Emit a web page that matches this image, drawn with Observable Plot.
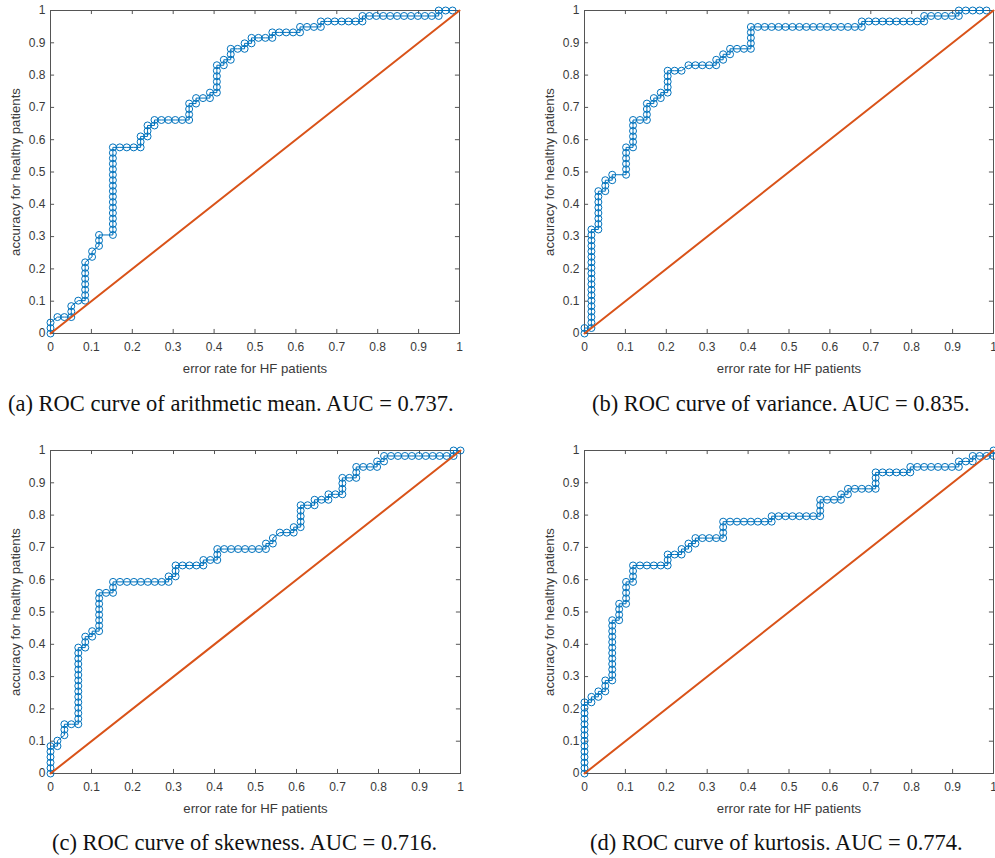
<!DOCTYPE html>
<html>
<head>
<meta charset="utf-8">
<script src="https://cdn.jsdelivr.net/npm/d3@7"></script>
<script src="https://cdn.jsdelivr.net/npm/@observablehq/plot@0.6"></script>
<style>
  html, body { margin: 0; padding: 0; background: #fff; }
  #root { position: relative; width: 995px; height: 858px; overflow: hidden; background: #fff; }
  .panel { position: absolute; }
  .caption { position: absolute; white-space: nowrap; font-family: "Liberation Serif", "Times New Roman", serif; font-size: 22.5px; line-height: 22.5px; color: #111; }
</style>
</head>
<body>
<div id="root"></div>
<script>
// ---- data (counts of patients; N patients per class) ----
const N = 59;
const tickValues = [0, 0.1, 0.2, 0.3, 0.4, 0.5, 0.6, 0.7, 0.8, 0.9, 1];
const tickLabels = ["0", "0.1", "0.2", "0.3", "0.4", "0.5", "0.6", "0.7", "0.8", "0.9", "1"];
const xLabel = "error rate for HF patients";
const yLabel = "accuracy for healthy patients";
const chance = [[0, 0], [1, 1]];
const captions = [
  "(a) ROC curve of arithmetic mean. AUC = 0.737.",
  "(b) ROC curve of variance. AUC = 0.835.",
  "(c) ROC curve of skewness. AUC = 0.716.",
  "(d) ROC curve of kurtosis. AUC = 0.774."
];

// [HF patients counted as error, healthy patients counted as correct]
const rocMean = [[0,0],[0,1],[0,2],[1,3],[2,3],[3,3],[3,4],[3,5],[4,6],[5,6],[5,7],[5,8],[5,9],[5,10],[5,11],[5,12],[5,13],[6,14],[6,15],[7,16],[7,17],[7,18],
  [9,18],[9,19],[9,20],[9,21],[9,22],[9,23],[9,24],[9,25],[9,26],[9,27],[9,28],[9,29],[9,30],[9,31],[9,32],[9,33],[9,34],
  [10,34],[11,34],[12,34],[13,34],[13,35],[13,36],[14,36],[14,37],[14,38],[15,38],[15,39],[16,39],[17,39],[18,39],[19,39],[20,39],[20,40],[20,41],[20,42],
  [21,42],[21,43],[22,43],[23,43],[23,44],[24,44],[24,45],[24,46],[24,47],[24,48],[24,49],[25,49],[25,50],[26,50],[26,51],[26,52],[27,52],[28,52],[28,53],
  [29,53],[29,54],[30,54],[31,54],[32,54],[32,55],[33,55],[34,55],[35,55],[36,55],[36,56],[37,56],[38,56],[39,56],[39,57],[40,57],[41,57],[42,57],[43,57],
  [44,57],[45,57],[45,58],[46,58],[47,58],[48,58],[49,58],[50,58],[51,58],[52,58],[53,58],[54,58],[55,58],[56,58],[56,59],[57,59],[58,59]];

const rocVariance = [[0,0],[0,1],[1,1],[1,2],[1,3],[1,4],[1,5],[1,6],[1,7],[1,8],[1,9],[1,10],[1,11],[1,12],[1,13],[1,14],[1,15],[1,16],[1,17],[1,18],[1,19],
  [2,19],[2,20],[2,21],[2,22],[2,23],[2,24],[2,25],[2,26],[3,26],[3,27],[3,28],[4,28],[4,29],[6,29],[6,30],[6,31],[6,32],[6,33],[6,34],
  [7,34],[7,35],[7,36],[7,37],[7,38],[7,39],[8,39],[9,39],[9,40],[9,41],[9,42],[10,42],[10,43],[11,43],[11,44],[12,44],[12,45],[12,46],[12,47],[12,48],
  [13,48],[14,48],[15,49],[16,49],[17,49],[18,49],[19,49],[19,50],[20,50],[20,51],[21,51],[21,52],[22,52],[23,52],[24,52],[24,53],[24,54],[24,55],[24,56],
  [25,56],[26,56],[27,56],[28,56],[29,56],[30,56],[31,56],[32,56],[33,56],[34,56],[35,56],[36,56],[37,56],[38,56],[39,56],[40,56],
  [40,57],[41,57],[42,57],[43,57],[44,57],[45,57],[46,57],[47,57],[48,57],[49,57],[49,58],[50,58],[51,58],[52,58],[53,58],[54,58],
  [54,59],[55,59],[56,59],[57,59],[58,59]];

const rocSkewness = [[0,0],[0,1],[0,2],[0,3],[0,4],[0,5],[1,5],[1,6],[2,7],[2,8],[2,9],[3,9],[4,9],[4,10],[4,11],[4,12],[4,13],[4,14],[4,15],[4,16],[4,17],
  [4,18],[4,19],[4,20],[4,21],[4,22],[4,23],[5,23],[5,24],[5,25],[6,25],[6,26],[7,26],[7,27],[7,28],[7,29],[7,30],[7,31],[7,32],[7,33],[8,33],[9,33],
  [9,34],[9,35],[10,35],[11,35],[12,35],[13,35],[14,35],[15,35],[16,35],[17,35],[17,36],[18,36],[18,37],[18,38],[19,38],[20,38],[21,38],[22,38],[22,39],
  [23,39],[24,39],[24,40],[24,41],[25,41],[26,41],[27,41],[28,41],[29,41],[30,41],[31,41],[31,42],[32,42],[32,43],[33,44],[34,44],[35,44],[35,45],[36,45],
  [36,46],[36,47],[36,48],[36,49],[37,49],[38,49],[38,50],[39,50],[40,50],[40,51],[41,51],[42,51],[42,52],[42,53],[42,54],[43,54],[44,54],[44,55],[44,56],
  [45,56],[46,56],[47,56],[47,57],[48,57],[48,58],[49,58],[50,58],[51,58],[52,58],[53,58],[54,58],[55,58],[56,58],[57,58],[58,58],[58,59],[59,59]];

const rocKurtosis = [[0,0],[0,1],[0,2],[0,3],[0,4],[0,5],[0,6],[0,7],[0,8],[0,9],[0,10],[0,11],[0,12],[0,13],[1,13],[1,14],[2,14],[2,15],[3,15],[3,16],[3,17],
  [4,17],[4,18],[4,19],[4,20],[4,21],[4,22],[4,23],[4,24],[4,25],[4,26],[4,27],[4,28],[5,28],[5,29],[5,30],[5,31],[6,31],[6,32],[6,33],[6,34],[6,35],
  [7,35],[7,36],[7,37],[7,38],[8,38],[9,38],[10,38],[11,38],[12,38],[12,39],[12,40],[13,40],[14,40],[14,41],[15,41],[15,42],[16,42],[16,43],[17,43],[18,43],
  [19,43],[20,43],[20,44],[20,45],[20,46],[21,46],[22,46],[23,46],[24,46],[25,46],[26,46],[27,46],[27,47],[28,47],[29,47],[30,47],[31,47],[32,47],[33,47],
  [34,47],[34,48],[34,49],[34,50],[35,50],[36,50],[37,50],[37,51],[38,51],[38,52],[39,52],[40,52],[41,52],[42,52],[42,53],[42,54],[42,55],[43,55],[44,55],
  [45,55],[46,55],[47,55],[47,56],[48,56],[49,56],[50,56],[51,56],[52,56],[53,56],[54,56],[54,57],[55,57],[56,57],[56,58],[57,58],[58,58],[59,58],[59,59]];

// ---- drawing ----
const BLUE = "#0072BD", ORANGE = "#D95319", AXIS = "#555555", TEXT = "#3a3a3a";
const root = document.getElementById("root");

function panel(points, caption, {left, top, width, marginRight, capLeft, capTop}) {
  const fx = d => d[0] / N, fy = d => d[1] / N;
  const chart = Plot.plot({
    width, height: 380,
    marginLeft: 50, marginRight, marginTop: 10, marginBottom: 47,
    x: {domain: [0, 1]},
    y: {domain: [0, 1]},
    style: {fontFamily: "'Liberation Sans', Arial, sans-serif", fontSize: "12px", color: TEXT, background: "transparent", overflow: "visible"},
    marks: [
      Plot.frame({stroke: AXIS, strokeWidth: 1}),
      Plot.ruleX(tickValues, {x: d => d, y1: 0, y2: 0.0125, stroke: AXIS}),
      Plot.ruleX(tickValues, {x: d => d, y1: 1, y2: 0.9875, stroke: AXIS}),
      Plot.ruleY(tickValues, {y: d => d, x1: 0, x2: 0.01, stroke: AXIS}),
      Plot.ruleY(tickValues, {y: d => d, x1: 1, x2: 0.99, stroke: AXIS}),
      Plot.axisX({ticks: tickValues, tickFormat: (d, i) => tickLabels[i], tickSize: 0, tickPadding: 9, label: null, fontSize: 12}),
      Plot.axisY({ticks: tickValues, tickFormat: (d, i) => tickLabels[i], tickSize: 0, tickPadding: 5, label: null, fontSize: 12}),
      Plot.axisX({ticks: [], tickSize: 0, label: xLabel, labelAnchor: "center", labelOffset: 39, labelArrow: false, fontSize: 13.2}),
      Plot.axisY({ticks: [], tickSize: 0, label: yLabel, labelAnchor: "center", labelOffset: 40, labelArrow: false, fontSize: 13.2}),
      Plot.line(points, {x: fx, y: fy, stroke: BLUE, strokeWidth: 1}),
      Plot.dot(points, {x: fx, y: fy, r: 3.5, stroke: BLUE, fill: "none", strokeWidth: 1}),
      Plot.line(chance, {x: d => d[0], y: d => d[1], stroke: ORANGE, strokeWidth: 2})
    ]
  });
  const wrap = document.createElement("div");
  wrap.className = "panel";
  wrap.style.left = left + "px";
  wrap.style.top = top + "px";
  wrap.appendChild(chart);
  root.appendChild(wrap);
  const cap = document.createElement("div");
  cap.className = "caption";
  cap.textContent = caption;
  cap.style.left = capLeft + "px";
  cap.style.top = capTop + "px";
  root.appendChild(cap);
}

panel(rocMean, captions[0], {left: 0, top: 0, width: 470, marginRight: 11, capLeft: 8, capTop: 393});
panel(rocVariance, captions[1], {left: 534, top: 0, width: 461, marginRight: 2, capLeft: 592, capTop: 393});
panel(rocSkewness, captions[2], {left: 0, top: 440, width: 470, marginRight: 10, capLeft: 52, capTop: 832});
panel(rocKurtosis, captions[3], {left: 534, top: 440, width: 461, marginRight: 2, capLeft: 590, capTop: 832});
</script>
</body>
</html>
